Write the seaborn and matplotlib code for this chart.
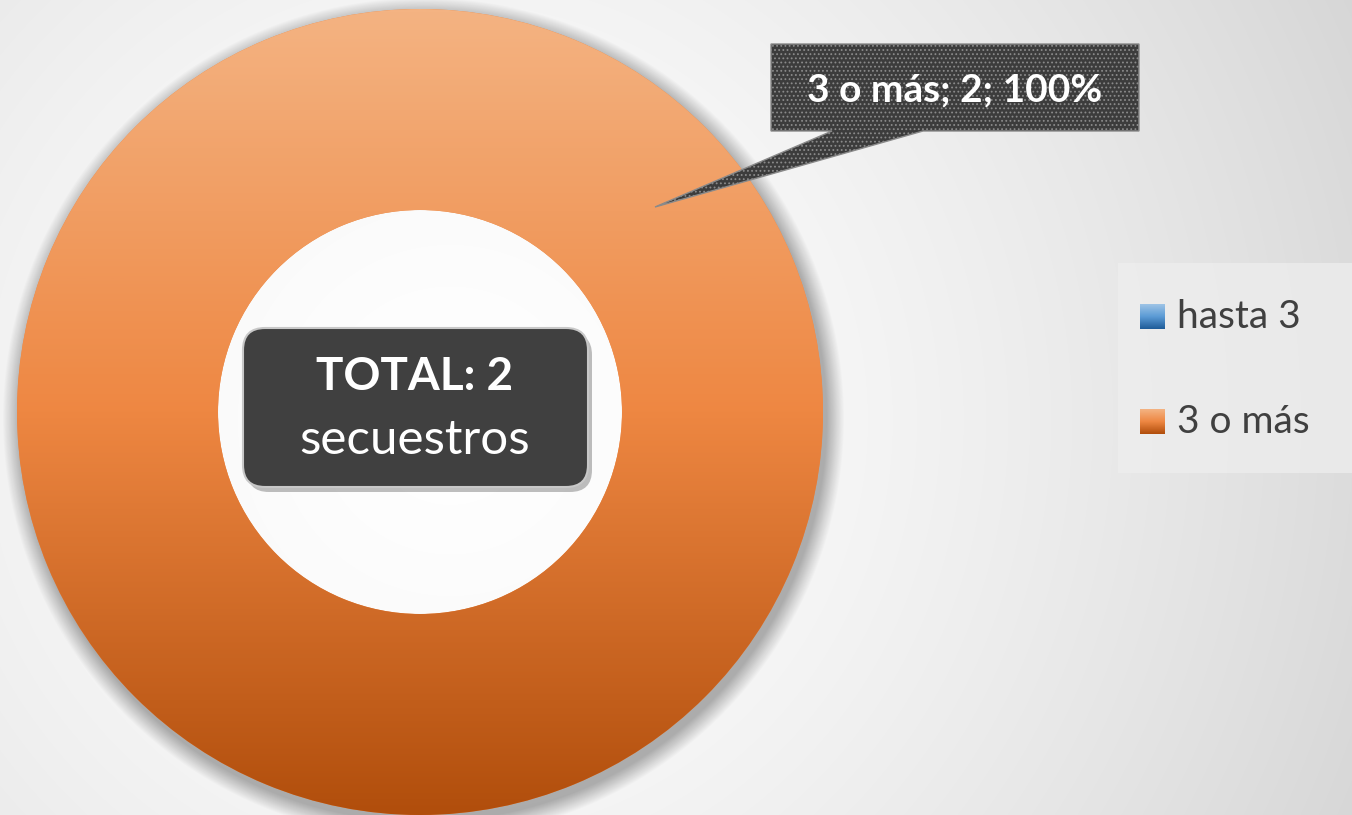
import numpy as np
import matplotlib
matplotlib.use("Agg")
import matplotlib.pyplot as plt
import seaborn as sns
from matplotlib.colors import LinearSegmentedColormap
from matplotlib.patches import FancyBboxPatch, Polygon, Rectangle

# datos
categorias = ["hasta 3", "3 o más"]
secuestros = [0, 2]
total = sum(secuestros)
etiqueta_total = "TOTAL: {}".format(total)
etiqueta_unidad = "secuestros"

sns.set_theme(style="white")
plt.rcParams['font.family'] = ['Lato', 'DejaVu Sans']
plt.rcParams['hatch.color'] = "#4A4A4A"
plt.rcParams['hatch.linewidth'] = 0.8

W, H = 1352, 815
fig = plt.figure(figsize=(W / 100, H / 100), dpi=100)
ax = fig.add_axes([0, 0, 1, 1])

# fondo con degradado radial
yy, xx = np.mgrid[0:H, 0:W]
d = np.clip(np.hypot(xx - 450, yy - 420) / 1000, 0, 1)
v = 1 - 0.16 * d ** 1.5
bg = np.dstack([v, v, v])
ax.imshow(bg, extent=(0, W, H, 0), origin='upper', zorder=0)

cx, cy, R, r_in = 420, 412, 403, 202

# sombra del anillo
d_out = np.hypot(xx - cx - 3, yy - cy - 6) - R
alpha = 0.3 * np.clip(1 - d_out / 18, 0, 1) * (d_out > -30)
sombra = np.zeros((H, W, 4))
sombra[..., 3] = alpha
ax.imshow(sombra, extent=(0, W, H, 0), origin='upper', zorder=1)

# anillo
naranja = LinearSegmentedColormap.from_list("naranja", ["#F4B382", "#EE8742", "#B14E0C"])
azul = LinearSegmentedColormap.from_list("azul", ["#9DC3E6", "#5B9BD5", "#1F5C99"])
colores = [azul, naranja]

wedges, _ = ax.pie(secuestros, radius=R, center=(cx, cy), startangle=90,
                   counterclock=False,
                   colors=[c(0.5) for c in colores],
                   wedgeprops=dict(width=R - r_in, linewidth=0))
grad = np.linspace(0, 1, 400).reshape(-1, 1)
for w, cm, val in zip(wedges, colores, secuestros):
    w.set_zorder(2)
    if val == 0:
        continue
    im = ax.imshow(grad, cmap=cm, aspect='auto', origin='upper',
                   extent=(cx - R, cx + R, cy + R, cy - R), zorder=3)
    im.set_clip_path(w)

ax.set_xlim(0, W)
ax.set_ylim(H, 0)
ax.set_aspect('equal')
ax.axis('off')

# etiqueta de datos tipo globo
idx = 1
globo = Polygon([(771, 44), (1139, 44), (1139, 131), (923, 131), (655, 207),
                 (832, 131), (771, 131)], closed=True, facecolor="#3C3C3C",
                edgecolor="#8A8A8A", linewidth=1, hatch="....", zorder=5)
ax.add_patch(globo)
pct = secuestros[idx] / total * 100
ax.text(955, 90, "{}; {}; {:.0f}%".format(categorias[idx], secuestros[idx], pct),
        color="white", fontsize=28, fontweight="bold", ha="center", va="center", zorder=6)

# caja central
ax.add_patch(FancyBboxPatch((247, 333), 345, 159, boxstyle="round,pad=0,rounding_size=22",
                            facecolor="black", alpha=0.25, linewidth=0, zorder=5))
ax.add_patch(FancyBboxPatch((243, 328), 345, 159, boxstyle="round,pad=0,rounding_size=22",
                            facecolor="#404040", edgecolor="#C8C8C8", linewidth=1.5, zorder=6))
ax.text(415, 377, etiqueta_total, color="white", fontsize=33, fontweight="bold",
        ha="center", va="center", zorder=7)
ax.text(415, 440, etiqueta_unidad, color="white", fontsize=35.5,
        ha="center", va="center", zorder=7)

# leyenda
ax.add_patch(Rectangle((1118, 263), W - 1118, 210, facecolor="#EEEEEE", alpha=0.75,
                       linewidth=0, zorder=4))
for i, (cat, cm) in enumerate(zip(categorias, colores)):
    y0 = 304 + i * 105
    ax.imshow(np.linspace(0.05, 1, 50).reshape(-1, 1), cmap=cm, aspect='auto',
              origin='upper', extent=(1140, 1165, y0 + 25, y0), zorder=5)
    ax.text(1177, y0 + 13, cat, color="#404040", fontsize=28, ha="left", va="center",
            zorder=5)

ax.set_xlim(0, W)
ax.set_ylim(H, 0)
fig.savefig("out.png", dpi=100)
